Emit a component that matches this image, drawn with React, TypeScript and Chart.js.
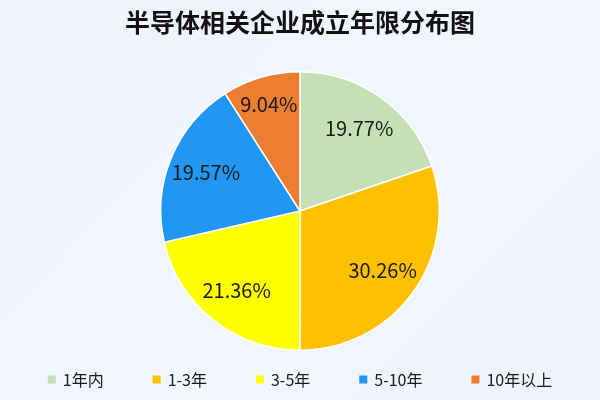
import { useEffect, useRef } from "react";
import { Chart, registerables } from "chart.js";

Chart.register(...registerables);

const title = "半导体相关企业成立年限分布图";
const categories = ["1年内", "1-3年", "3-5年", "5-10年", "10年以上"];
const shares = [19.77, 30.26, 21.36, 19.57, 9.04];
const colors = ["#c5e0b4", "#ffc000", "#ffff00", "#2196f3", "#ed7d31"];

const FONT = "'Noto Sans CJK SC', 'Noto Sans', sans-serif";

// percent labels inside each slice, small slices pushed a bit outward
const sliceLabels = {
  id: "sliceLabels",
  afterDatasetsDraw(chart: any) {
    const { ctx } = chart;
    const meta = chart.getDatasetMeta(0);
    ctx.save();
    ctx.font = `20px ${FONT}`;
    ctx.fillStyle = "#1a1a1a";
    ctx.textAlign = "center";
    ctx.textBaseline = "middle";
    meta.data.forEach((arc: any, i: number) => {
      const { x, y, startAngle, endAngle, outerRadius } = arc.getProps(
        ["x", "y", "startAngle", "endAngle", "outerRadius"],
        true
      );
      const mid = (startAngle + endAngle) / 2;
      const r = outerRadius * (shares[i] < 12 ? 0.8 : 0.73);
      ctx.fillText(
        shares[i].toFixed(2) + "%",
        x + Math.cos(mid) * r,
        y + Math.sin(mid) * r
      );
    });
    ctx.restore();
  },
};

// legend row along the bottom, small square markers
const bottomLegend = {
  id: "bottomLegend",
  afterDraw(chart: any) {
    const { ctx, width } = chart;
    const box = 8;
    const gap = 7;
    const spacing = 49;
    const cy = 379.5;
    ctx.save();
    ctx.font = `16px ${FONT}`;
    ctx.textBaseline = "middle";
    ctx.textAlign = "left";
    const widths = categories.map((c) => box + gap + ctx.measureText(c).width);
    const total = widths.reduce((a, b) => a + b, 0) + spacing * (categories.length - 1);
    let x = (width - total) / 2;
    categories.forEach((c, i) => {
      ctx.fillStyle = colors[i];
      ctx.fillRect(x, cy - box / 2, box, box);
      ctx.fillStyle = "#1a1a1a";
      ctx.fillText(c, x + box + gap, cy);
      x += widths[i] + spacing;
    });
    ctx.restore();
  },
};

export default function App() {
  const canvasRef = useRef<HTMLCanvasElement>(null);

  useEffect(() => {
    document.body.style.margin = "0";
    if (!canvasRef.current) return;

    const chart = new Chart(canvasRef.current, {
      type: "pie",
      data: {
        labels: categories,
        datasets: [
          {
            data: shares,
            backgroundColor: colors,
            borderColor: "#ffffff",
            borderWidth: 1.5,
          },
        ],
      },
      options: {
        responsive: true,
        maintainAspectRatio: false,
        animation: false,
        layout: { padding: { top: 0, bottom: 49, left: 0, right: 0 } },
        plugins: {
          legend: { display: false },
          tooltip: { enabled: false },
          title: {
            display: true,
            text: title,
            color: "#111111",
            font: { family: FONT, size: 25, weight: "bold" },
            padding: { top: 7, bottom: 34 },
          },
        },
      },
      plugins: [sliceLabels, bottomLegend],
    });

    return () => chart.destroy();
  }, []);

  return (
    <div
      style={{
        width: 600,
        height: 400,
        position: "relative",
        background: "linear-gradient(135deg, #eef3fc 0%, #f2f6fd 60%, #edf2fb 100%)",
      }}
    >
      <canvas ref={canvasRef} />
    </div>
  );
}
